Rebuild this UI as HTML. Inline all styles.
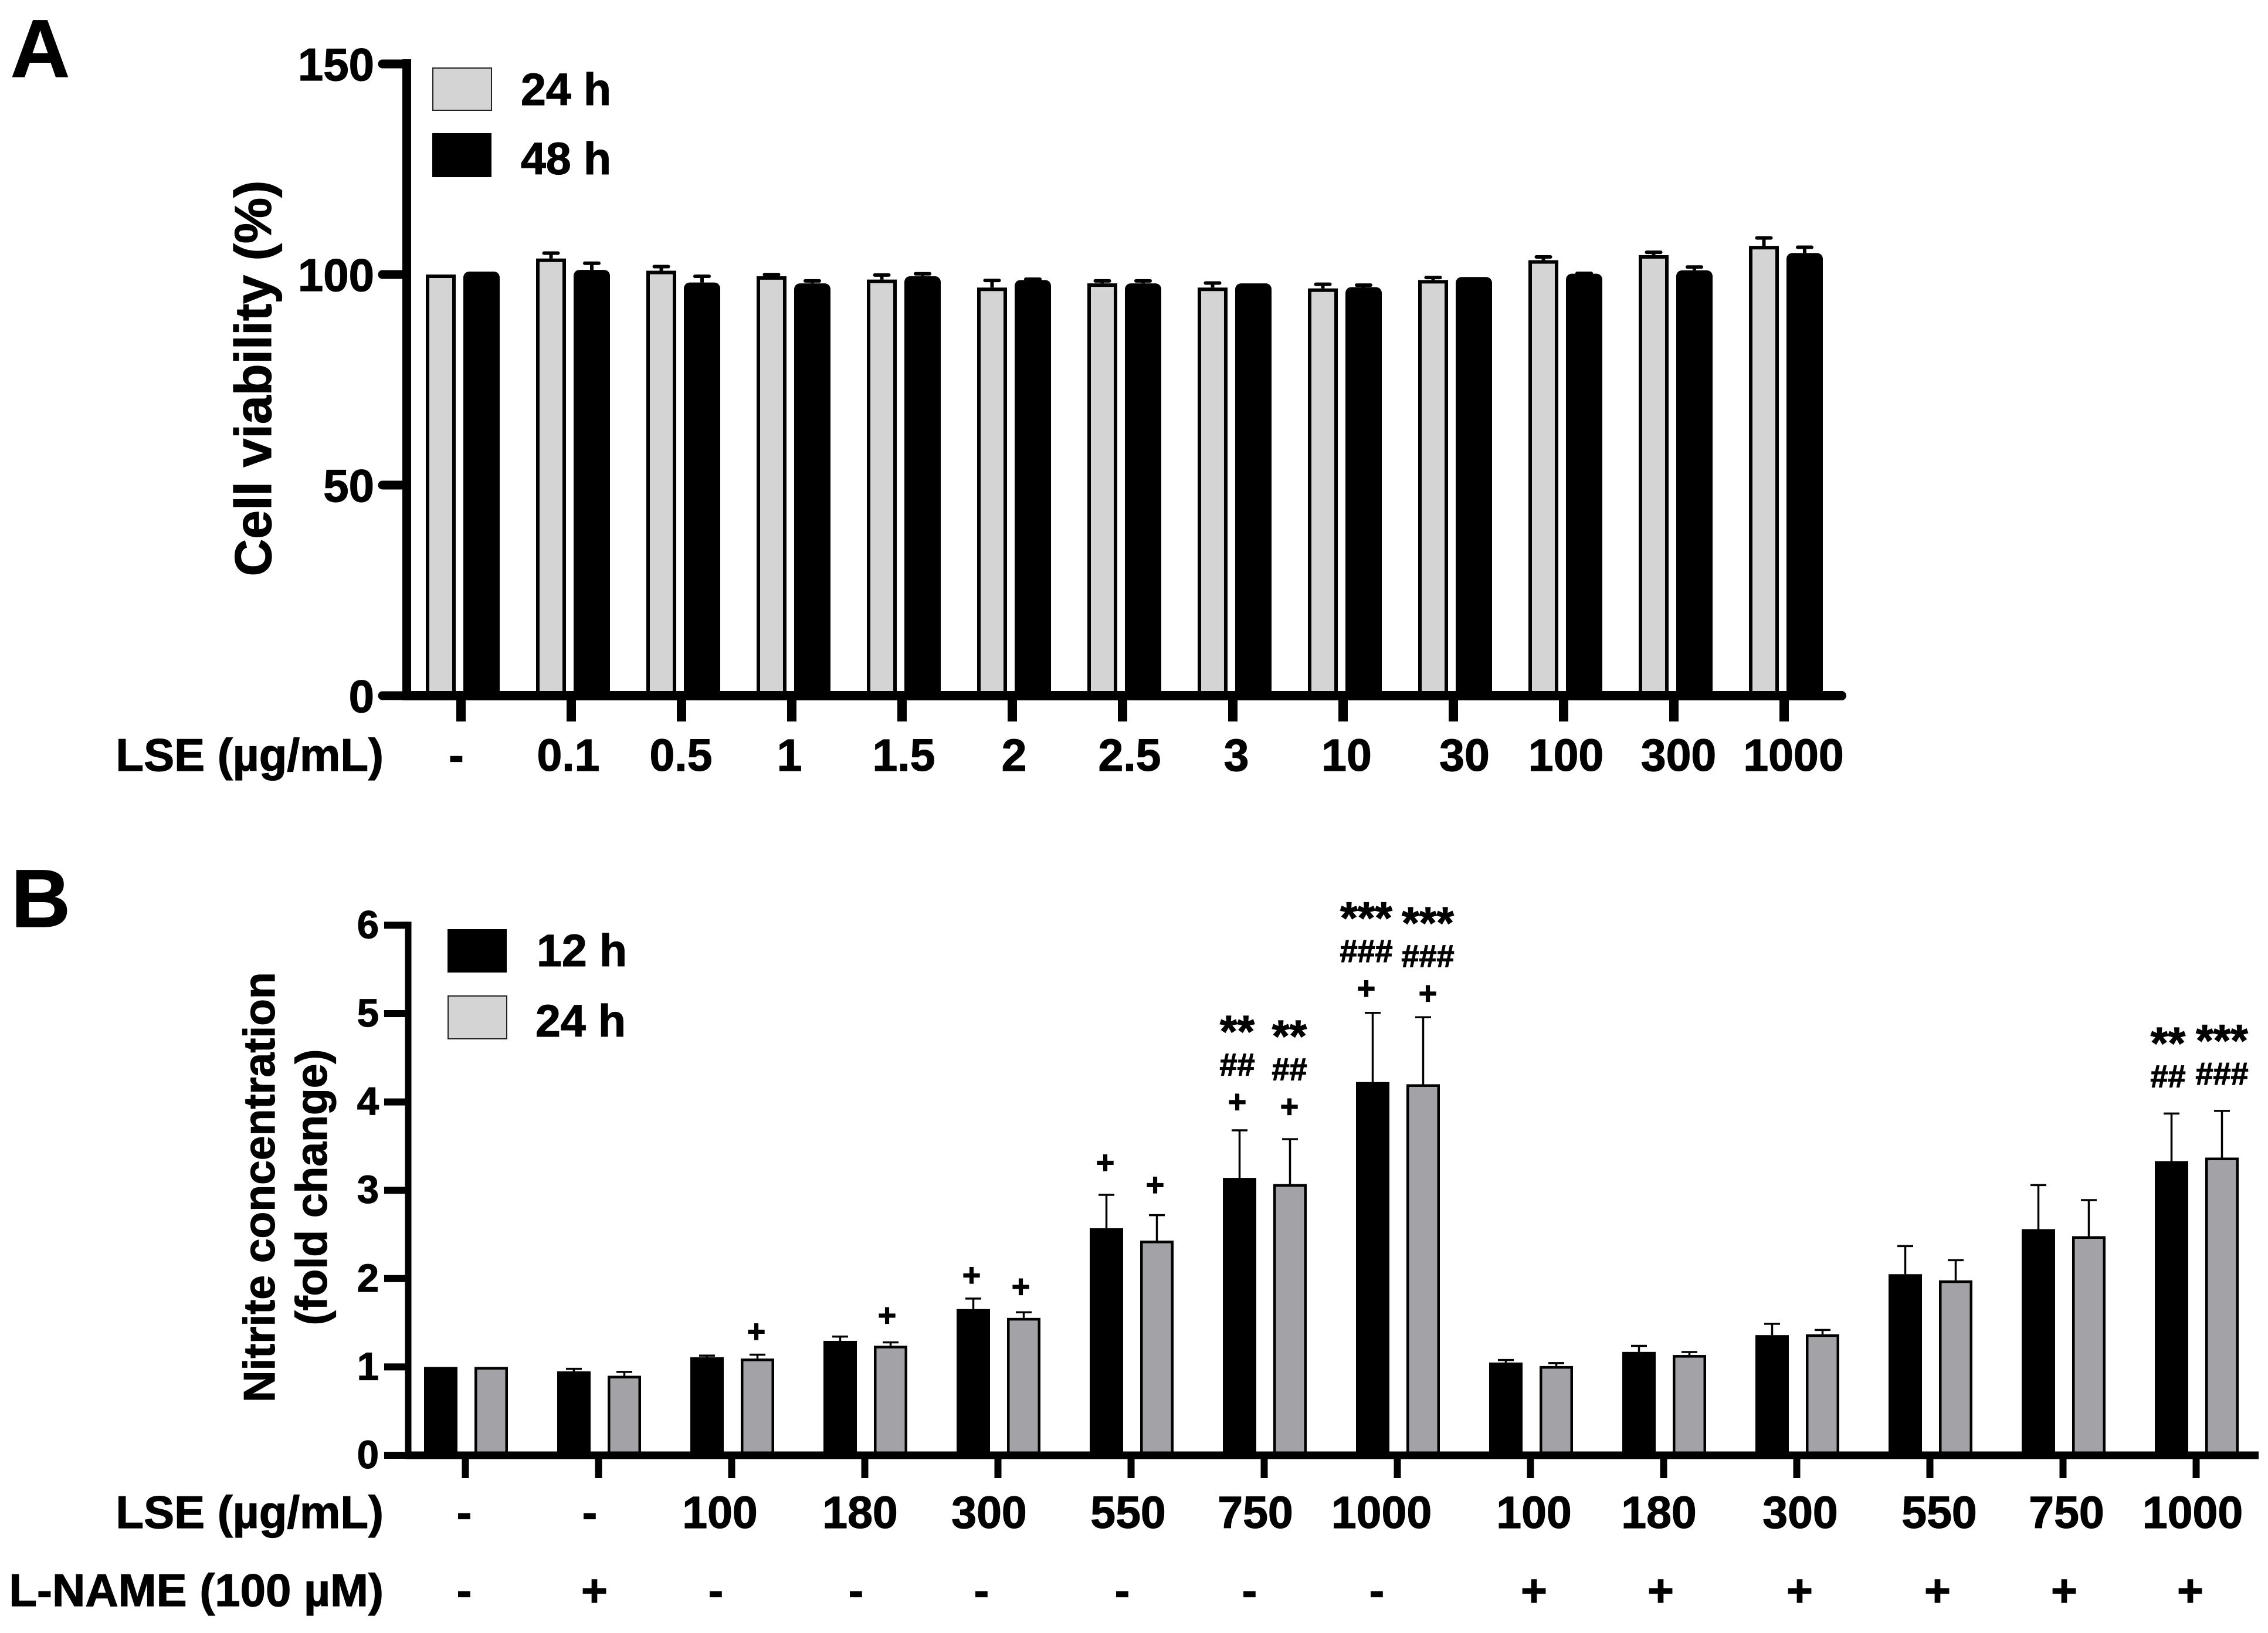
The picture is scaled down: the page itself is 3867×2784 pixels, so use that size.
<!DOCTYPE html>
<html lang="en">
<head>
<meta charset="utf-8">
<title>Cell viability and nitrite concentration</title>
<style>
html,body{margin:0;padding:0;background:#fff;}
svg{display:block;}
text{font-family:"Liberation Sans",Arial,sans-serif;font-weight:bold;fill:#000;stroke:#000;stroke-width:1.2px;}
</style>
</head>
<body>
<svg id="figure" xmlns="http://www.w3.org/2000/svg" width="3867" height="2784" viewBox="0 0 3867 2784">
  <rect x="0" y="0" width="3867" height="2784" fill="#fff"/>
  <g id="panelA"></g>
  <g id="panelB"></g>

  <text x="18" y="131" font-size="140">A</text>
  <text x="19" y="1580" font-size="140">B</text>

  <text transform="translate(462 645) rotate(-90)" text-anchor="middle" font-size="88">Cell viability (%)</text>
  <text transform="translate(468 2024) rotate(-90)" text-anchor="middle" font-size="75">Nitrite concentration</text>
  <text transform="translate(557 2024) rotate(-90)" text-anchor="middle" font-size="75">(fold change)</text>

  <rect x="738" y="116" width="100" height="72" fill="#d4d4d4" stroke="#222" stroke-width="2"/>
  <text x="888" y="179" font-size="77">24 h</text>
  <rect x="737" y="227" width="101" height="75" fill="#000"/>
  <text x="888" y="297" font-size="77">48 h</text>

  <rect x="763" y="1584" width="101" height="74" fill="#000"/>
  <text x="915" y="1647" font-size="77">12 h</text>
  <rect x="764" y="1698" width="100" height="73" fill="#d4d4d4" stroke="#222" stroke-width="2"/>
  <text x="913" y="1767" font-size="77">24 h</text>

  <text x="654" y="1314" text-anchor="end" font-size="78">LSE (µg/mL)</text>
  <text x="654" y="2605" text-anchor="end" font-size="78">LSE (µg/mL)</text>
  <text x="654" y="2738" text-anchor="end" font-size="78">L-NAME (100 µM)</text>
</svg>

<script>
// Panel A data
const aCategories = ['-','0.1','0.5','1','1.5','2','2.5','3','10','30','100','300','1000'];
const a24h = [100,103.8,100.9,99.6,98.8,96.9,97.9,96.9,96.7,98.7,103.4,104.6,106.8];
const a24hErr = [0,1.7,1.4,0.8,1.5,2.1,1.0,1.5,1.4,1.0,1.2,1.1,2.3];
const a48h = [100.7,101.1,98.1,97.9,99.6,98.7,97.9,97.9,97,99.4,100.2,101,105.1];
const a48hErr = [0,2.0,1.9,1.0,1.0,0.6,1.0,0,0.9,0,0.5,1.2,1.8];
const aYTicks = [0,50,100,150];

// Panel B data
const bLse = ['-','-','100','180','300','550','750','1000','100','180','300','550','750','1000'];
const bLname = ['-','+','-','-','-','-','-','-','+','+','+','+','+','+'];
const b12h = [1,0.95,1.11,1.295,1.655,2.57,3.14,4.225,1.05,1.17,1.36,2.05,2.56,3.33];
const b12hErr = [0,0.04,0.03,0.06,0.13,0.39,0.55,0.795,0.04,0.08,0.14,0.33,0.51,0.55];
const b24h = [1,0.90,1.095,1.24,1.555,2.43,3.07,4.20,1.01,1.135,1.37,1.98,2.48,3.37];
const b24hErr = [0,0.055,0.055,0.05,0.075,0.30,0.52,0.77,0.045,0.045,0.06,0.24,0.42,0.54];
const bYTicks = [0,1,2,3,4,5,6];
// Significance marks: group, series (0 = 12 h, 1 = 24 h), symbols bottom-up
const annGroups = [2,3,4,4,5,5,6,6,7,7,13,13];
const annSeries = [1,1,0,1,0,1,0,1,0,1,0,1];
const annSymbols = [['+'],['+'],['+'],['+'],['+'],['+'],['+','##','**'],['+','##','**'],['+','###','***'],['+','###','***'],['##','**'],['###','***']];

// Hand-placed label offsets from the tick in the source figure
const aLabelNudge = [-8,-5,-1,-4,3,3,12,6,6,19,4,8,16];
const bLseNudge = [-2,-15,-20,-8,-15,-5,-15,-27,6,-8,6,16,6,-6];
const bLnameNudge = [-2,-7,-27,-15,-28,-15,-25,-35,6,-5,5,13,2,-10];
const annLift = [39,45,39,43,54,51,48,55,41,40,60,60];
const annNudge = [-2,-6,-3,-5,-2,-3,-4,-1,-11,8,-6,0];

// Axis functions
function yA(v){return 1186 - v*7.18;}
function xA(i){return 786 + 188*i;}
function yB(v){return 2481 - v*150.6;}
function xB(i){return 793.5 + 227*i;}

const NS = 'http://www.w3.org/2000/svg';
function make(tag, props, parent){
  const el = document.createElementNS(NS, tag);
  for (const k in props) el.setAttribute(k, props[k]);
  parent.appendChild(el);
  return el;
}
function errorBar(parent, cx, barTop, errTop, sw, capW, round, name){
  const g = make('g', {}, parent);
  
  
  const cap = round ? 'round' : 'butt';
  make('line', {x1:cx, x2:cx, y1:barTop, y2:errTop+sw/2, stroke:'#000','stroke-width':sw}, g);
  make('line', {x1:cx-capW/2+(round?sw/2:0), x2:cx+capW/2-(round?sw/2:0), y1:errTop+sw/2, y2:errTop+sw/2, stroke:'#000','stroke-width':sw,'stroke-linecap':cap}, g);
}

/* ---------- Panel A ---------- */
const pa = document.getElementById('panelA');
aCategories.forEach(function(cat, i){
  const tick = xA(i);
  // 24 h outlined bar
  const cx1 = tick - 34.5;
  if (a24hErr[i] > 0) errorBar(pa, cx1, yA(a24h[i]), yA(a24h[i] + a24hErr[i]), 6, 30, true, 'error-bar-24h');
  const b1 = make('rect', {x:cx1-25.5+3, y:yA(a24h[i])+3, width:45, height:yA(0)-yA(a24h[i])-3, fill:'#d4d4d4', stroke:'#000','stroke-width':6}, pa);
  
  
  // 48 h solid bar
  const cx2 = tick + 35;
  if (a48hErr[i] > 0) errorBar(pa, cx2, yA(a48h[i]), yA(a48h[i] + a48hErr[i]), 6, 30, true, 'error-bar-48h');
  const b2 = make('rect', {x:cx2-31, y:yA(a48h[i]), width:62, height:yA(0)-yA(a48h[i])+8, rx:10, ry:10, fill:'#000'}, pa);
  
  
  // tick + label
  const t = make('line', {x1:tick, x2:tick, y1:yA(0), y2:1230, stroke:'#000','stroke-width':16}, pa);
  
  
  const lab = make('text', {x:tick + aLabelNudge[i], y:1314, 'text-anchor':'middle','font-size':77}, pa);
  lab.textContent = cat;
  
  
});
const aYAxis = make('line', {x1:693.5, x2:693.5, y1:yA(150)-8, y2:yA(0)+8, stroke:'#000','stroke-width':15}, pa);


const aXAxis = make('line', {x1:693, x2:3140, y1:yA(0), y2:yA(0), stroke:'#000','stroke-width':16,'stroke-linecap':'round'}, pa);


aYTicks.forEach(function(v){
  const t = make('line', {x1:652, x2:693, y1:yA(v), y2:yA(v), stroke:'#000','stroke-width':15,'stroke-linecap':'round'}, pa);
  
  
  const lab = make('text', {x:638, y:yA(v)+28, 'text-anchor':'end','font-size':78}, pa);
  lab.textContent = String(v);
  
  
});

/* ---------- Panel B ---------- */
const pb = document.getElementById('panelB');
const b12Offset = -42, b24Offset = 44, bHalf = 28.5;
bLse.forEach(function(lse, i){
  const tick = xB(i);
  const c1 = tick + b12Offset, c2 = tick + b24Offset;
  if (b12hErr[i] > 0) errorBar(pb, c1, yB(b12h[i]), yB(b12h[i] + b12hErr[i]), 3.5, 27, false, 'error-bar-12h');
  const r1 = make('rect', {x:c1-bHalf, y:yB(b12h[i]), width:bHalf*2, height:yB(0)-yB(b12h[i]), fill:'#000'}, pb);
  
  
  if (b24hErr[i] > 0) errorBar(pb, c2, yB(b24h[i]), yB(b24h[i] + b24hErr[i]), 3.5, 27, false, 'error-bar-24h');
  const r2 = make('rect', {x:c2-bHalf+2.25, y:yB(b24h[i])+2.25, width:bHalf*2-4.5, height:yB(0)-yB(b24h[i])-2.25, fill:'#a3a3a7', stroke:'#000','stroke-width':4.5}, pb);
  
  
  const t = make('line', {x1:tick, x2:tick, y1:yB(0), y2:2520, stroke:'#000','stroke-width':12}, pb);
  
  
  const lab = make('text', {x:tick + bLseNudge[i], y:2605, 'text-anchor':'middle','font-size':77}, pb);
  lab.textContent = lse;
  
  
  const ln = make('text', {x:tick + bLnameNudge[i], y:2738, 'text-anchor':'middle','font-size':77}, pb);
  ln.textContent = bLname[i];
  
  
});
annGroups.forEach(function(group, a){
  const s = annSeries[a];
  const mean = s === 0 ? b12h[group] : b24h[group];
  const err = s === 0 ? b12hErr[group] : b24hErr[group];
  const cx = xB(group) + (s === 0 ? b12Offset : b24Offset) + annNudge[a];
  let center = yB(mean + err) - annLift[a];
  annSymbols[a].forEach(function(sym, k){
    const star = sym.charAt(0) === '*';
    const hash = sym.charAt(0) === '#';
    if (k > 0) center -= star ? 68 : 61;
    const t = make('text', {x:cx, y:center + (star ? 36 : (hash ? 17 : 19)), 'text-anchor':'middle','font-size': star ? 76 : 54}, pb);
    t.textContent = sym;
    
    
  });
});
const bYAxis = make('line', {x1:696, x2:696, y1:yB(6)-6, y2:yB(0)+6, stroke:'#000','stroke-width':11}, pb);


const bXAxis = make('line', {x1:691, x2:3851, y1:yB(0), y2:yB(0), stroke:'#000','stroke-width':13}, pb);


bYTicks.forEach(function(v){
  const t = make('line', {x1:655, x2:696, y1:yB(v), y2:yB(v), stroke:'#000','stroke-width':12}, pb);
  
  
  const lab = make('text', {x:646, y:yB(v)+22, 'text-anchor':'end','font-size':67}, pb);
  lab.textContent = String(v);
  
  
});
</script>
</body>
</html>
